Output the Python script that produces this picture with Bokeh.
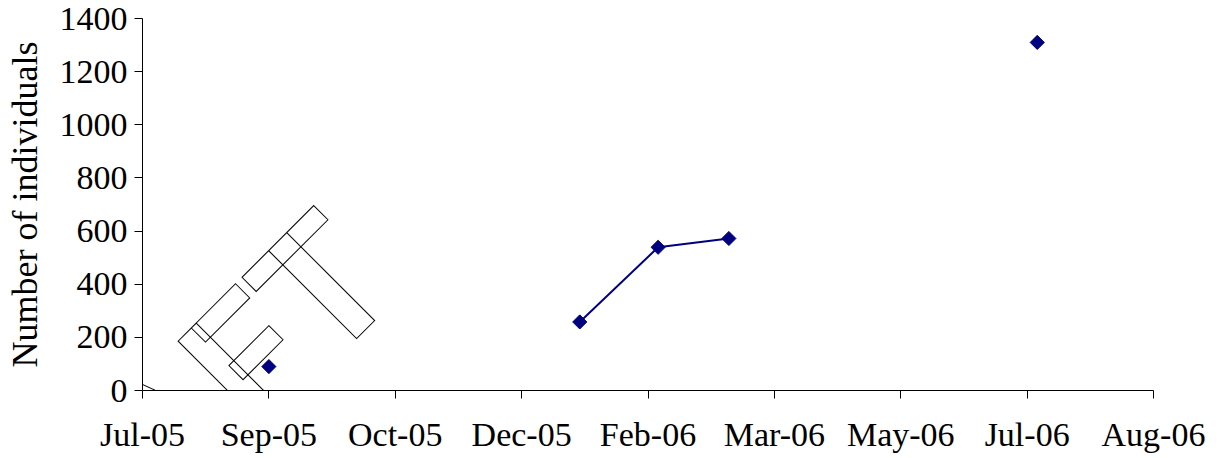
from datetime import datetime
import math

from bokeh.plotting import figure
from bokeh.models import FixedTicker, DatetimeTickFormatter, Range1d, Label, ColumnDataSource
from bokeh.embed import file_html
from bokeh.resources import INLINE

# ---- data ----
sample_dates = ["2005-09-05", "2006-01-06", "2006-02-06", "2006-03-06", "2006-07-06"]
individuals = [90, 258, 539, 572, 1310]
joined = [False, True, True, True, False]   # points joined by a line in the original

x_tick_dates = ["2005-07-17", "2005-09-05", "2005-10-25", "2005-12-14", "2006-02-02",
                "2006-03-24", "2006-05-13", "2006-07-02", "2006-08-21"]
y_ticks = [0, 200, 400, 600, 800, 1000, 1200, 1400]

EPOCH = datetime(1970, 1, 1)


def to_ms(s):
    return (datetime.strptime(s, "%Y-%m-%d") - EPOCH).total_seconds() * 1000.0


xs = [to_ms(d) for d in sample_dates]
tick_ms = [to_ms(d) for d in x_tick_dates]

NAVY = "#000080"
SERIF = "Liberation Serif"
W, H = 1207, 455

p = figure(
    width=W, height=H,
    x_axis_type="datetime",
    x_range=Range1d(tick_ms[0], tick_ms[-1]),
    y_range=Range1d(y_ticks[0], y_ticks[-1]),
    output_backend="svg", toolbar_location=None,
    min_border_left=142, min_border_right=54, min_border_top=18, min_border_bottom=65,
)
p.outline_line_color = None
p.grid.visible = False
p.background_fill_color = "white"
p.border_fill_color = "white"

# axes
p.xaxis.ticker = FixedTicker(ticks=tick_ms)
fmt = "%b-%y"
p.xaxis.formatter = DatetimeTickFormatter(
    milliseconds=fmt, seconds=fmt, minsec=fmt, minutes=fmt, hourmin=fmt, hours=fmt,
    days=fmt, months=fmt, years=fmt)
p.yaxis.ticker = FixedTicker(ticks=y_ticks)

for ax in (p.xaxis[0], p.yaxis[0]):
    ax.axis_line_color = "black"
    ax.axis_line_width = 1
    ax.major_tick_line_color = "black"
    ax.major_tick_in = 0
    ax.major_tick_out = 8
    ax.minor_tick_line_color = None
    ax.major_label_text_font = SERIF
    ax.major_label_text_font_size = "34px"
    ax.major_label_text_color = "black"

p.xaxis.major_label_standoff = 17
p.yaxis.major_label_standoff = 7
p.yaxis.axis_label = "Number of individuals"
p.yaxis.axis_label_text_font = SERIF
p.yaxis.axis_label_text_font_size = "36px"
p.yaxis.axis_label_text_font_style = "normal"
p.yaxis.axis_label_text_color = "black"
p.yaxis.axis_label_standoff = 12

# connected run as line
lx = [x for x, j in zip(xs, joined) if j]
ly = [y for y, j in zip(individuals, joined) if j]
p.line(lx, ly, line_color=NAVY, line_width=2)

src = ColumnDataSource(dict(x=xs, y=individuals))
p.scatter("x", "y", source=src, marker="square", angle=math.pi / 4, size=10,
          fill_color=NAVY, line_color=NAVY)

# DRAFT watermark (outlined text)
wm = Label(x=to_ms("2005-07-27"), y=-199,
           text="DRAFT", angle=math.pi / 4, level="underlay",
           text_font="Roboto", text_font_style="bold",
           text_font_size="175px", text_align="center", text_baseline="middle",
           text_color="rgba(255,255,255,0)", text_outline_color="black")
p.add_layout(wm)

open("out.html", "w").write(file_html(p, INLINE))
